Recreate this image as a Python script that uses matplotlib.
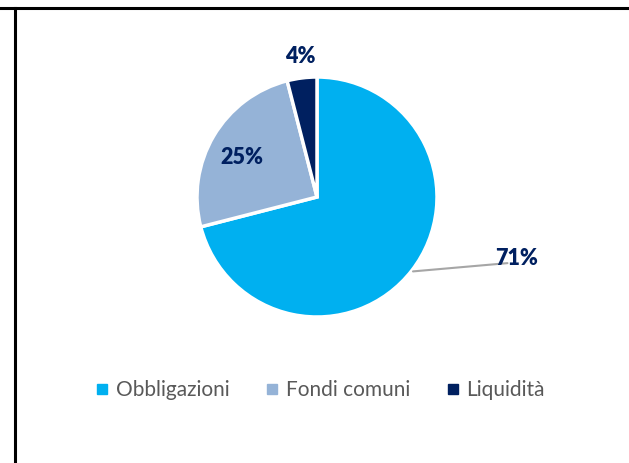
import matplotlib
matplotlib.use("Agg")
import matplotlib.pyplot as plt
from matplotlib.lines import Line2D
import numpy as np

labels = ["Obbligazioni", "Fondi comuni", "Liquidità"]
values = [71, 25, 4]
colors = ["#00B0F0", "#95B3D7", "#002060"]

plt.rcParams['font.family'] = ['Lato', 'DejaVu Sans']

W, H = 629, 463
fig = plt.figure(figsize=(W / 100, H / 100), dpi=100)

# frame lines (top and left)
fig.add_artist(Line2D([0, 1], [1 - 8 / H, 1 - 8 / H], color="black", lw=2.2))
fig.add_artist(Line2D([15 / W, 15 / W], [0, 1 - 8 / H], color="black", lw=2.2))

cx, cy, r = 317, 197, 120
ax = fig.add_axes([(cx - r) / W, (H - cy - r) / H, 2 * r / W, 2 * r / H])
wedges, _ = ax.pie(values, colors=colors, startangle=90, counterclock=False,
                   radius=1, wedgeprops=dict(edgecolor="white", linewidth=2.5))
ax.set_xlim(-1, 1)
ax.set_ylim(-1, 1)
ax.set_aspect("equal")
ax.axis("off")

lab_kw = dict(fontsize=15.5, fontweight="heavy", color="#002060", ha="center", va="center")
ax.text(-0.63, 0.33, f"{values[1]}%", **lab_kw)
ax.text(-0.14, 1.17, f"{values[2]}%", clip_on=False, **lab_kw)
ax.annotate(f"{values[0]}%", xy=(0.80, -0.62), xytext=(1.66, -0.51),
            annotation_clip=False, **lab_kw,
            arrowprops=dict(arrowstyle="-", color="#A6A6A6", lw=1.5,
                            shrinkA=24, shrinkB=0,
                            connectionstyle="angle,angleA=0,angleB=5,rad=0"))

handles = [Line2D([], [], marker="s", linestyle="none", markersize=6.5,
                  markerfacecolor=c, markeredgecolor=c) for c in colors]
fig.legend(handles, labels, loc="center", bbox_to_anchor=(321 / W, 1 - 390 / H),
           ncol=3, frameon=False, fontsize=15, handlelength=0.5,
           handletextpad=0.4, columnspacing=1.8, labelcolor="#595959")

fig.savefig("out.png", dpi=100, facecolor="white")
